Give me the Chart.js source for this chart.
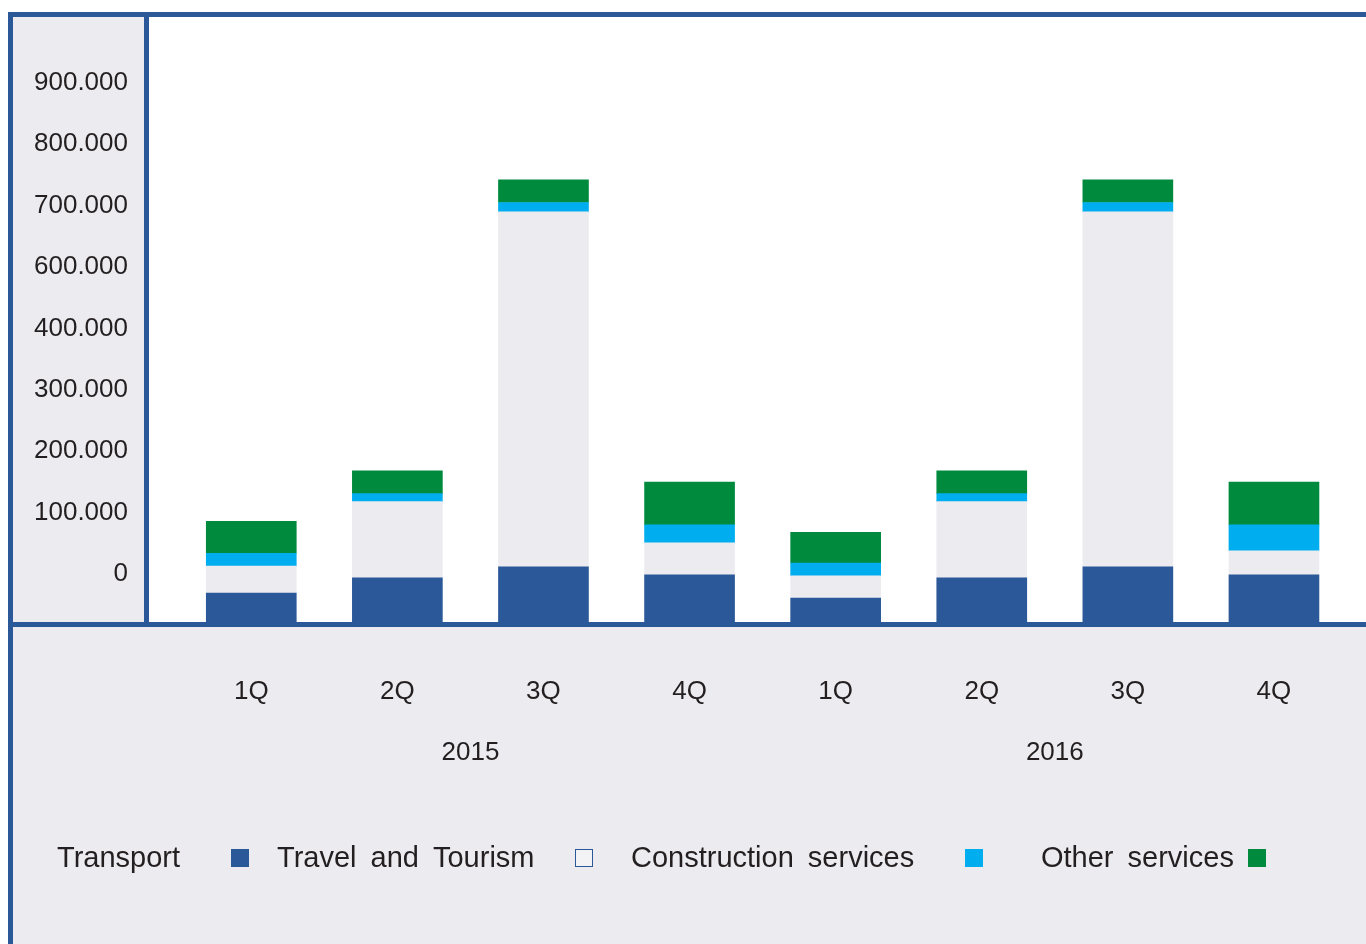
<!DOCTYPE html>
<html>
<head>
<meta charset="utf-8">
<title>Services by quarter</title>
<script src="https://cdn.jsdelivr.net/npm/chart.js@4.4.1/dist/chart.umd.min.js"></script>
<style>
  html, body { margin: 0; padding: 0; background: #ffffff; }
  #wrap { position: relative; width: 1366px; height: 944px; }
</style>
</head>
<body>
<div id="wrap"><canvas id="servicesChart"></canvas></div>
<script>
// categories
var quarters = ['1Q', '2Q', '3Q', '4Q', '1Q', '2Q', '3Q', '4Q'];
var years = ['2015', '2016'];

// series values
var transport    = [47000, 72000, 90000, 77000, 39000, 72000, 90000, 77000];
var travel       = [44000, 124000, 578000, 52000, 36000, 124000, 578000, 39000];
var construction = [21000, 13000, 15000, 29000, 21000, 13000, 15000, 42000];
var other        = [52000, 37000, 37000, 70000, 50000, 37000, 37000, 70000];

// y tick labels (as printed, 500.000 is missing in the source)
var yLabels = ['0', '100.000', '200.000', '300.000', '400.000', '600.000', '700.000', '800.000', '900.000'];
var yFirstTick = 78000;
var yStep = 100000;

var BLUE = '#2B5898';
var GREY = '#ECEBF0';
var CYAN = '#00AEEF';
var GREEN = '#008A3E';
var TEXT = '#231F20';
var FONT = '"Liberation Sans", Arial, Helvetica, sans-serif';

function points(arr) {
  return arr.map(function (v, i) { return { x: i, y: v }; });
}

// frame, background and the hand made legend
var framePlugin = {
  id: 'frame',
  beforeDraw: function (chart) {
    var ctx = chart.ctx, a = chart.chartArea;
    ctx.save();
    ctx.fillStyle = GREY;
    ctx.fillRect(8, 12, chart.width - 8, chart.height - 12);
    ctx.fillStyle = '#ffffff';
    ctx.fillRect(a.left, a.top, a.right - a.left, a.bottom - a.top);
    ctx.restore();
  },
  afterDatasetsDraw: function (chart) {
    var ctx = chart.ctx, a = chart.chartArea;
    ctx.save();
    ctx.fillStyle = BLUE;
    ctx.fillRect(8, 12, chart.width - 8, 5);           // top
    ctx.fillRect(8, 12, 5, chart.height - 12);          // outer left
    ctx.fillRect(a.left - 5, 12, 5, a.bottom - 7);      // y axis
    ctx.fillRect(8, a.bottom, chart.width - 8, 5);      // x axis
    ctx.restore();
  },
  afterDraw: function (chart) {
    var ctx = chart.ctx, xs = chart.scales.x;
    ctx.save();
    ctx.fillStyle = TEXT;
    ctx.font = '26px ' + FONT;
    ctx.textAlign = 'center';
    ctx.textBaseline = 'middle';
    years.forEach(function (y, g) {
      ctx.fillText(y, xs.getPixelForValue(1.5 + g * 4), 753);
    });

    // legend: label first, swatch after it
    var items = [
      { text: 'Transport', x: 57, box: 231, fill: BLUE },
      { text: 'Travel and Tourism', x: 277, box: 575, fill: '#F3F3F6', stroke: BLUE },
      { text: 'Construction services', x: 631, box: 965, fill: CYAN },
      { text: 'Other services', x: 1041, box: 1248, fill: GREEN }
    ];
    ctx.font = '29px ' + FONT;
    ctx.textAlign = 'left';
    ctx.wordSpacing = '6px';
    items.forEach(function (it) {
      ctx.fillStyle = TEXT;
      ctx.fillText(it.text, it.x, 859);
      ctx.fillStyle = it.fill;
      ctx.fillRect(it.box, 849, 18, 18);
      if (it.stroke) {
        ctx.strokeStyle = it.stroke;
        ctx.lineWidth = 1;
        ctx.strokeRect(it.box + 0.5, 849.5, 17, 17);
      }
    });
    ctx.restore();
  }
};

var ctx = document.getElementById('servicesChart').getContext('2d');
new Chart(ctx, {
  type: 'bar',
  data: {
    datasets: [
      { label: 'Transport', data: points(transport), backgroundColor: BLUE },
      { label: 'Travel and Tourism', data: points(travel), backgroundColor: GREY },
      { label: 'Construction services', data: points(construction), backgroundColor: CYAN },
      { label: 'Other services', data: points(other), backgroundColor: GREEN }
    ]
  },
  options: {
    responsive: true,
    maintainAspectRatio: false,
    animation: false,
    layout: { padding: { top: 17, left: 0, right: 0, bottom: 0 } },
    datasets: { bar: { barThickness: 90, borderWidth: 0 } },
    plugins: {
      legend: { display: false },
      tooltip: { enabled: false }
    },
    scales: {
      x: {
        type: 'linear',
        stacked: true,
        offset: false,
        min: -0.70,
        max: 7.63,
        grid: { display: false },
        border: { display: false },
        afterBuildTicks: function (s) {
          s.ticks = quarters.map(function (q, i) { return { value: i }; });
        },
        afterFit: function (s) {
          s.height = 322;
          s.paddingLeft = 0;
          s.paddingRight = 0;
        },
        ticks: {
          autoSkip: false,
          maxRotation: 0,
          padding: 46,
          color: TEXT,
          font: { family: FONT, size: 26 },
          callback: function (v, i) { return quarters[i]; }
        }
      },
      y: {
        stacked: true,
        min: 0,
        max: 985000,
        grid: { display: false },
        border: { display: false },
        afterBuildTicks: function (s) {
          s.ticks = yLabels.map(function (l, i) { return { value: yFirstTick + i * yStep }; });
        },
        afterFit: function (s) {
          s.width = 149;
          s.paddingTop = 0;
          s.paddingBottom = 0;
        },
        ticks: {
          autoSkip: false,
          padding: 13,
          color: TEXT,
          font: { family: FONT, size: 26 },
          callback: function (v, i) { return yLabels[i]; }
        }
      }
    }
  },
  plugins: [framePlugin]
});
</script>
</body>
</html>
